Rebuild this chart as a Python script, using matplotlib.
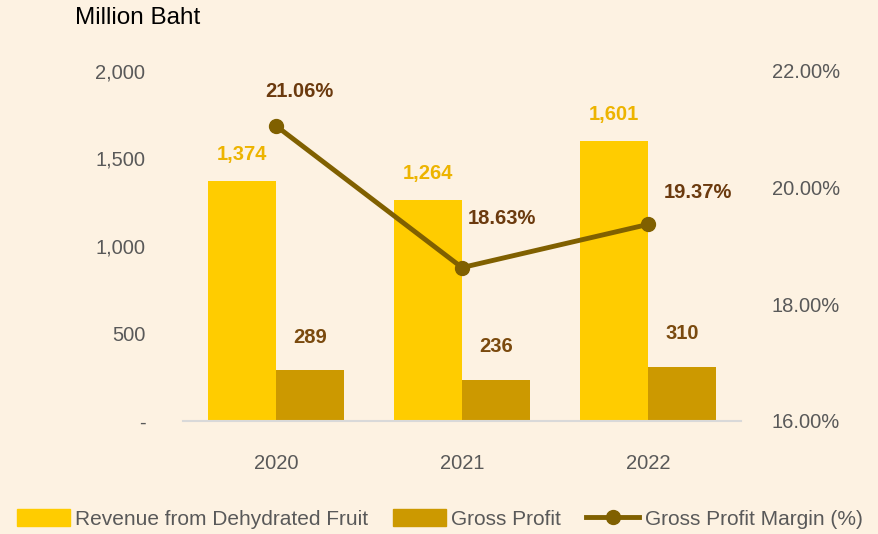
import matplotlib.pyplot as plt
import numpy as np
from matplotlib.lines import Line2D
from matplotlib.patches import Patch

years = ['2020', '2021', '2022']
revenue = [1374, 1264, 1601]
gross_profit = [289, 236, 310]
margin = [21.06, 18.63, 19.37]

# label offsets for the margin points (pixels)
margin_offsets = [(23, 34), (40, 49), (50, 32)]

BG = '#FDF2E2'
C_REV = '#FFCC00'
C_GP = '#CC9900'
C_LINE = '#806000'
C_TXT = '#595959'

plt.rcParams['font.family'] = ['Liberation Sans', 'DejaVu Sans']

fig = plt.figure(figsize=(8.79, 5.34), dpi=100, facecolor=BG)
ax = fig.add_axes([183 / 879, 1 - 421 / 534, (741 - 183) / 879, 350 / 534])
ax.set_facecolor(BG)
ax2 = ax.twinx()

x = np.arange(len(years))
w = 0.365
ax.bar(x - w / 2, revenue, w, color=C_REV, zorder=2)
ax.bar(x + w / 2, gross_profit, w, color=C_GP, zorder=2)

ax.set_xlim(-0.5, 2.5)
ax.set_ylim(0, 2000)
ax.set_yticks([0, 500, 1000, 1500, 2000])
ax.set_yticklabels(['-', '500', '1,000', '1,500', '2,000'])
ax.set_xticks(x)
ax.set_xticklabels(years)

for i in range(len(years)):
    ax.annotate(f'{revenue[i]:,}', (x[i] - w / 2, revenue[i]), xytext=(0, 26),
                textcoords='offset pixels', ha='center', va='center',
                fontsize=14.5, fontweight='bold', color='#EDB400')
    ax.annotate(f'{gross_profit[i]:,}', (x[i] + w / 2, gross_profit[i]), xytext=(0, 33),
                textcoords='offset pixels', ha='center', va='center',
                fontsize=14.5, fontweight='bold', color='#7A4A0E')

ax2.plot(x, margin, color=C_LINE, lw=3.5, marker='o', ms=10, zorder=3)
ax2.set_ylim(16, 22)
ax2.set_yticks([16, 18, 20, 22])
ax2.set_yticklabels([f'{v:.2f}%' for v in [16, 18, 20, 22]])
for i in range(len(years)):
    ax2.annotate(f'{margin[i]:.2f}%', (x[i], margin[i]), xytext=margin_offsets[i],
                 textcoords='offset pixels', ha='center', va='center',
                 fontsize=14.5, fontweight='bold', color='#6B3A0E')

for a in (ax, ax2):
    for s in a.spines.values():
        s.set_visible(False)
    a.tick_params(length=0, labelsize=14.5, colors=C_TXT)
ax.spines['bottom'].set_visible(True)
ax.spines['bottom'].set_color('#D9D9D9')
ax.spines['bottom'].set_linewidth(1.5)
ax.tick_params(axis='y', pad=27)
ax.tick_params(axis='x', pad=24)
ax2.tick_params(axis='y', pad=22)

fig.text(75 / 879, 1 - 18 / 534, 'Million Baht', fontsize=17.5, color='black',
         va='center', ha='left')

handles = [
    Patch(color=C_REV, label='Revenue from Dehydrated Fruit'),
    Patch(color=C_GP, label='Gross Profit'),
    Line2D([], [], color=C_LINE, lw=3.5, marker='o', ms=10,
           label='Gross Profit Margin (%)'),
]
leg = fig.legend(handles=handles, loc='center', bbox_to_anchor=(0.5, 1 - 519 / 534),
                 ncol=3, frameon=False, fontsize=15, handlelength=2.55,
                 handleheight=0.87, columnspacing=1.2, handletextpad=0.25)
for t in leg.get_texts():
    t.set_color(C_TXT)

fig.savefig('out.png', dpi=100, facecolor=BG)
